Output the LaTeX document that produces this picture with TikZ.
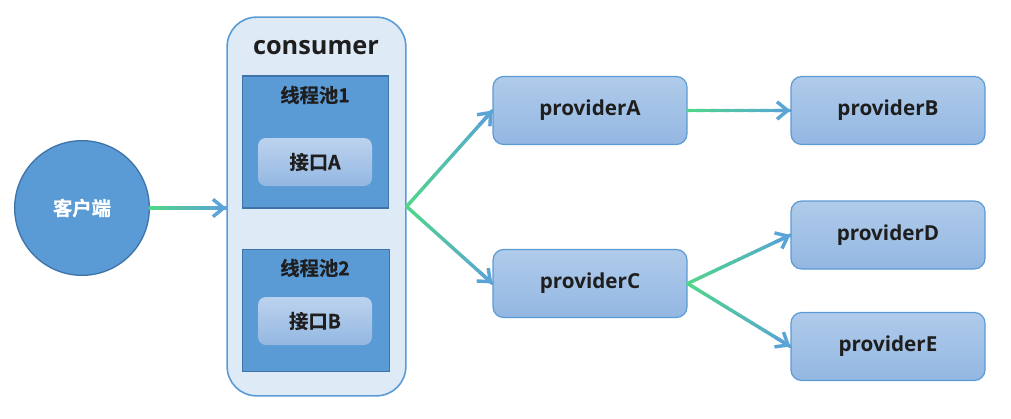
\documentclass[tikz,border=0pt]{standalone}
\usepackage{fontspec}
\setmainfont{Open Sans}
\newfontfamily\cjk{Noto Sans CJK SC}[BoldFont={Noto Sans CJK SC Bold},BoldFeatures={FakeBold=0.8}]
\usetikzlibrary{arrows.meta,calc}
\definecolor{cText}{HTML}{1E1E1E}
\definecolor{cFill}{HTML}{5B9BD5}
\definecolor{cRim}{HTML}{3F74AB}
\definecolor{cPale}{HTML}{DEEAF6}
\definecolor{cTop}{HTML}{B0CBEA}
\definecolor{cBot}{HTML}{93B7E2}
\definecolor{cGreen}{HTML}{4FD68A}
\definecolor{cBlue}{HTML}{5AA5D5}

% gradient connector: green tail, blue head
\newcommand{\flowline}[2]{%
  \foreach \k in {0,...,23}{%
    \pgfmathtruncatemacro{\mixpct}{100-100*\k/23}
    \draw[cGreen!\mixpct!cBlue,line width=2.6pt,line cap=round]
      ($(#1)!{\k/24}!(#2)$) -- ($(#1)!{(\k+1)/24}!(#2)$);
  }%
  \draw[-{Straight Barb[length=8pt,width=13pt]},cBlue,line width=2.6pt]
    ($(#1)!0.85!(#2)$) -- (#2);
}

\begin{document}
\begin{tikzpicture}[x=0.75pt,y=-0.75pt,
  every node/.style={text=cText},
  client/.style={circle,fill=cFill,draw=cRim,line width=1pt,minimum size=101pt,
    text=white,font=\cjk\bfseries\fontsize{14.5}{16}\selectfont},
  outerbox/.style={rectangle,rounded corners=22pt,fill=cPale,draw=cFill,line width=1.2pt,
    minimum width=134pt,minimum height=284pt},
  pool/.style={rectangle,fill=cFill,draw=cRim,line width=0.8pt,minimum width=110pt},
  api/.style={rectangle,rounded corners=6pt,top color=cTop!85!white,bottom color=cBot,
    minimum width=85.5pt,minimum height=36pt,font=\cjk\bfseries\fontsize{14.5}{16}\selectfont},
  heading/.style={font=\cjk\bfseries\fontsize{14.5}{16}\selectfont},
  prov/.style={rectangle,rounded corners=8pt,draw=cFill,line width=0.9pt,
    top color=cTop,bottom color=cBot,minimum width=145.5pt,minimum height=51pt,
    font=\bfseries\fontsize{15.5}{17}\selectfont}]
  \useasboundingbox (0,0) rectangle (1011,418);

  % client and consumer
  \node[client] (client) at (82,208) {客户端};
  \node[outerbox] (cons) at (316.5,206.5) {};
  \node[font=\bfseries\fontsize{19}{21}\selectfont] (constitle) at (316,48) {consumer};
  \coordinate (consin) at (client.east -| cons.west);

  % thread pools
  \node[pool,minimum height=99pt] (pool1) at (315.5,142) {};
  \node[heading] (pool1title) at (315,95) {线程池1};
  \node[api] (apiA) at (315,162) {接口A};
  \node[pool,minimum height=92pt] (pool2) at (316,310.5) {};
  \node[heading] (pool2title) at (315,268) {线程池2};
  \node[api] (apiB) at (315,321) {接口B};

  % providers
  \node[prov] (provA) at (590,110.5) {providerA};
  \node[prov] (provB) at (888,110.5) {providerB};
  \node[prov] (provC) at (590,283.5) {providerC};
  \node[prov] (provD) at (888,235) {providerD};
  \node[prov] (provE) at (888,346.5) {providerE};

  % connectors
  \flowline{client.east}{consin}
  \flowline{cons.east}{provA.west}
  \flowline{cons.east}{provC.west}
  \flowline{provA.east}{provB.west}
  \flowline{provC.east}{provD.west}
  \flowline{provC.east}{provE.west}
\end{tikzpicture}
\end{document}
